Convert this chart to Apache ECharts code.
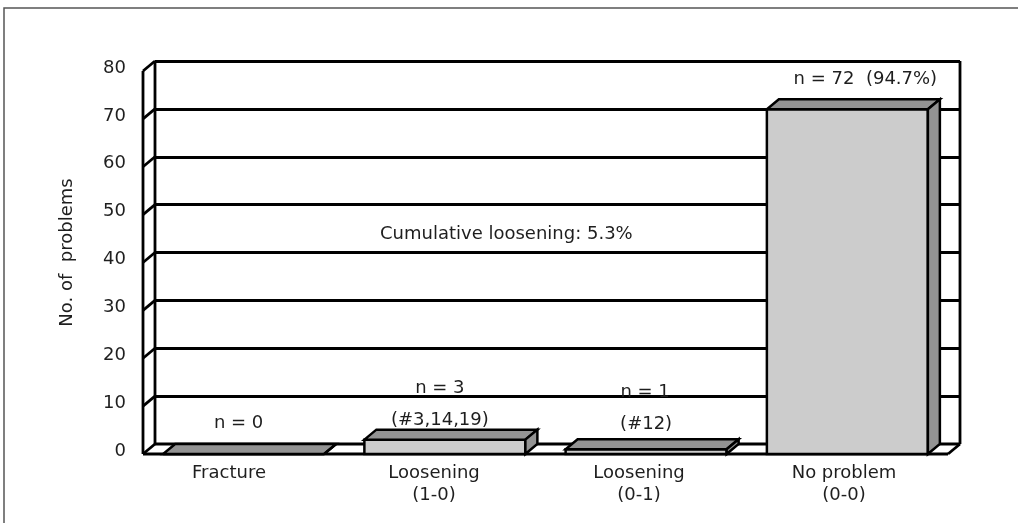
<!DOCTYPE html>
<html>
<head>
<meta charset="utf-8">
<script src="https://cdn.jsdelivr.net/npm/echarts@6/dist/echarts.min.js"></script>
<style>
  html, body { margin: 0; padding: 0; background: #ffffff; }
  #chart { width: 1018px; height: 523px; }
</style>
</head>
<body>
<div id="chart"></div>
<script>
// ---- data ----
const categories = ['Fracture', 'Loosening\n(1-0)', 'Loosening\n(0-1)', 'No problem\n(0-0)'];
const counts = [0, 3, 1, 72];
const countNotes = ['n = 0', 'n = 3', 'n = 1', 'n = 72  (94.7%)'];
const caseNotes = ['', '(#3,14,19)', '(#12)', ''];
const yTicks = [0, 10, 20, 30, 40, 50, 60, 70, 80];
const summaryNote = 'Cumulative loosening: 5.3%';
const yTitle = 'No. of  problems';

// ---- look ----
const FONT = 'DejaVu Sans';
const FONT_SIZE = 18;
const INK = '#1e1e1e';
const FRONT_FILL = '#cccccc';
const SHADE_FILL = '#939393';
const WALL_LINE = 2.8;
const DEPTH = [12, -10];          // oblique offset from front plane to back wall (px)
const BAR_SHARE = 0.8;            // bar width as share of a category slot
// where each note sits relative to the centre of the bar's top face (px)
const countNoteShift = [[-11, -26], [-11, -46], [-7, -52], [12, -25]];
const caseNoteShift = [[0, 0], [-11, -14], [-6, -20], [0, 0]];

const chart = echarts.init(document.getElementById('chart'), null, { renderer: 'canvas' });

const fontSpec = FONT_SIZE + 'px "' + FONT + '"';
const line = (a, b, w) => ({
  type: 'line',
  shape: { x1: a[0], y1: a[1], x2: b[0], y2: b[1] },
  style: { stroke: '#000', lineWidth: w || WALL_LINE }
});
const toFront = (pt) => [pt[0] - DEPTH[0], pt[1] - DEPTH[1]];

// side wall, floor and outer edges of the back wall
function renderWalls(params, api) {
  const yMax = yTicks[yTicks.length - 1];
  const nCat = categories.length;
  const p = (x, v) => api.coord([x, v]);
  const kids = [];
  kids.push({
    type: 'polygon',
    shape: { points: [toFront(p(0, 0)), toFront(p(nCat, 0)), p(nCat, 0), p(0, 0)] },
    style: { fill: '#fff' }
  });
  kids.push(line(p(0, 0), p(nCat, 0)));
  kids.push(line(p(0, 0), p(0, yMax)));
  kids.push(line(p(nCat, 0), p(nCat, yMax)));
  kids.push(line(toFront(p(0, 0)), toFront(p(0, yMax))));
  yTicks.forEach(v => kids.push(line(toFront(p(0, v)), p(0, v))));
  kids.push(line(toFront(p(0, 0)), toFront(p(nCat, 0)), 3));
  kids.push(line(toFront(p(nCat, 0)), p(nCat, 0)));
  return { type: 'group', children: kids };
}

// 3-D style bars: front face, top face and right-hand side face
function renderBar(params, api) {
  const i = api.value(0);
  const v = api.value(1);
  const half = BAR_SHARE / 2;
  const bl = toFront(api.coord([i + 0.5 - half, 0]));
  const br = toFront(api.coord([i + 0.5 + half, 0]));
  const tl = toFront(api.coord([i + 0.5 - half, v]));
  const tr = toFront(api.coord([i + 0.5 + half, v]));
  const back = (pt) => [pt[0] + DEPTH[0], pt[1] + DEPTH[1]];
  const edge = { stroke: '#000', lineWidth: 2.5, lineJoin: 'miter' };
  const kids = [
    { type: 'polygon', shape: { points: [tl, tr, br, bl] }, style: Object.assign({ fill: FRONT_FILL }, edge) },
    { type: 'polygon', shape: { points: [tl, tr, back(tr), back(tl)] }, style: Object.assign({ fill: SHADE_FILL }, edge) },
    { type: 'polygon', shape: { points: [tr, back(tr), back(br), br] }, style: Object.assign({ fill: SHADE_FILL }, edge) }
  ];
  const cx = (tl[0] + tr[0]) / 2 + DEPTH[0] / 2;
  const cy = tl[1] + DEPTH[1] / 2;
  const txt = (s, shift) => ({
    type: 'text',
    x: cx + shift[0], y: cy + shift[1],
    style: { text: s, fill: INK, font: fontSpec, align: 'center', verticalAlign: 'middle' }
  });
  kids.push(txt(countNotes[i], countNoteShift[i]));
  if (caseNotes[i]) kids.push(txt(caseNotes[i], caseNoteShift[i]));
  return { type: 'group', children: kids };
}

const option = {
  animation: false,
  backgroundColor: '#ffffff',
  textStyle: { fontFamily: FONT },
  grid: [
    { left: 155, right: 58, top: 61, bottom: 79 },
    { left: 126.5, right: 71.5, top: 61, bottom: 70 }
  ],
  xAxis: [
    { gridIndex: 0, type: 'value', min: 0, max: categories.length, show: false },
    {
      gridIndex: 1, type: 'category', data: categories,
      axisLine: { show: false }, axisTick: { show: false }, splitLine: { show: false },
      axisLabel: { color: INK, fontSize: FONT_SIZE, fontFamily: FONT, lineHeight: 22, margin: 9, interval: 0 }
    }
  ],
  yAxis: [
    {
      gridIndex: 0, type: 'value', min: 0, max: 80, interval: 10,
      name: yTitle, nameLocation: 'middle', nameGap: 79,
      nameTextStyle: { color: INK, fontSize: FONT_SIZE, fontFamily: FONT },
      axisLine: { show: false }, axisTick: { show: false },
      axisLabel: { color: INK, fontSize: FONT_SIZE, fontFamily: FONT, margin: 29, verticalAlign: 'top', lineHeight: 14 },
      splitLine: { show: true, lineStyle: { color: '#000', width: WALL_LINE } }
    },
    { gridIndex: 1, type: 'value', show: false }
  ],
  graphic: [
    { type: 'rect', shape: { x: 4, y: 8, width: 1100, height: 600 }, style: { fill: 'none', stroke: '#555', lineWidth: 1.5 }, silent: true },
    { type: 'text', left: 380, top: 225, style: { text: summaryNote, fill: INK, font: fontSpec } }
  ],
  series: [
    { type: 'custom', xAxisIndex: 0, yAxisIndex: 0, renderItem: renderWalls, data: [[0, 0]], silent: true, z: 2 },
    {
      type: 'custom', xAxisIndex: 0, yAxisIndex: 0, renderItem: renderBar, z: 3,
      data: counts.map((c, i) => [i, c])
    }
  ]
};
chart.setOption(option);
</script>
</body>
</html>
